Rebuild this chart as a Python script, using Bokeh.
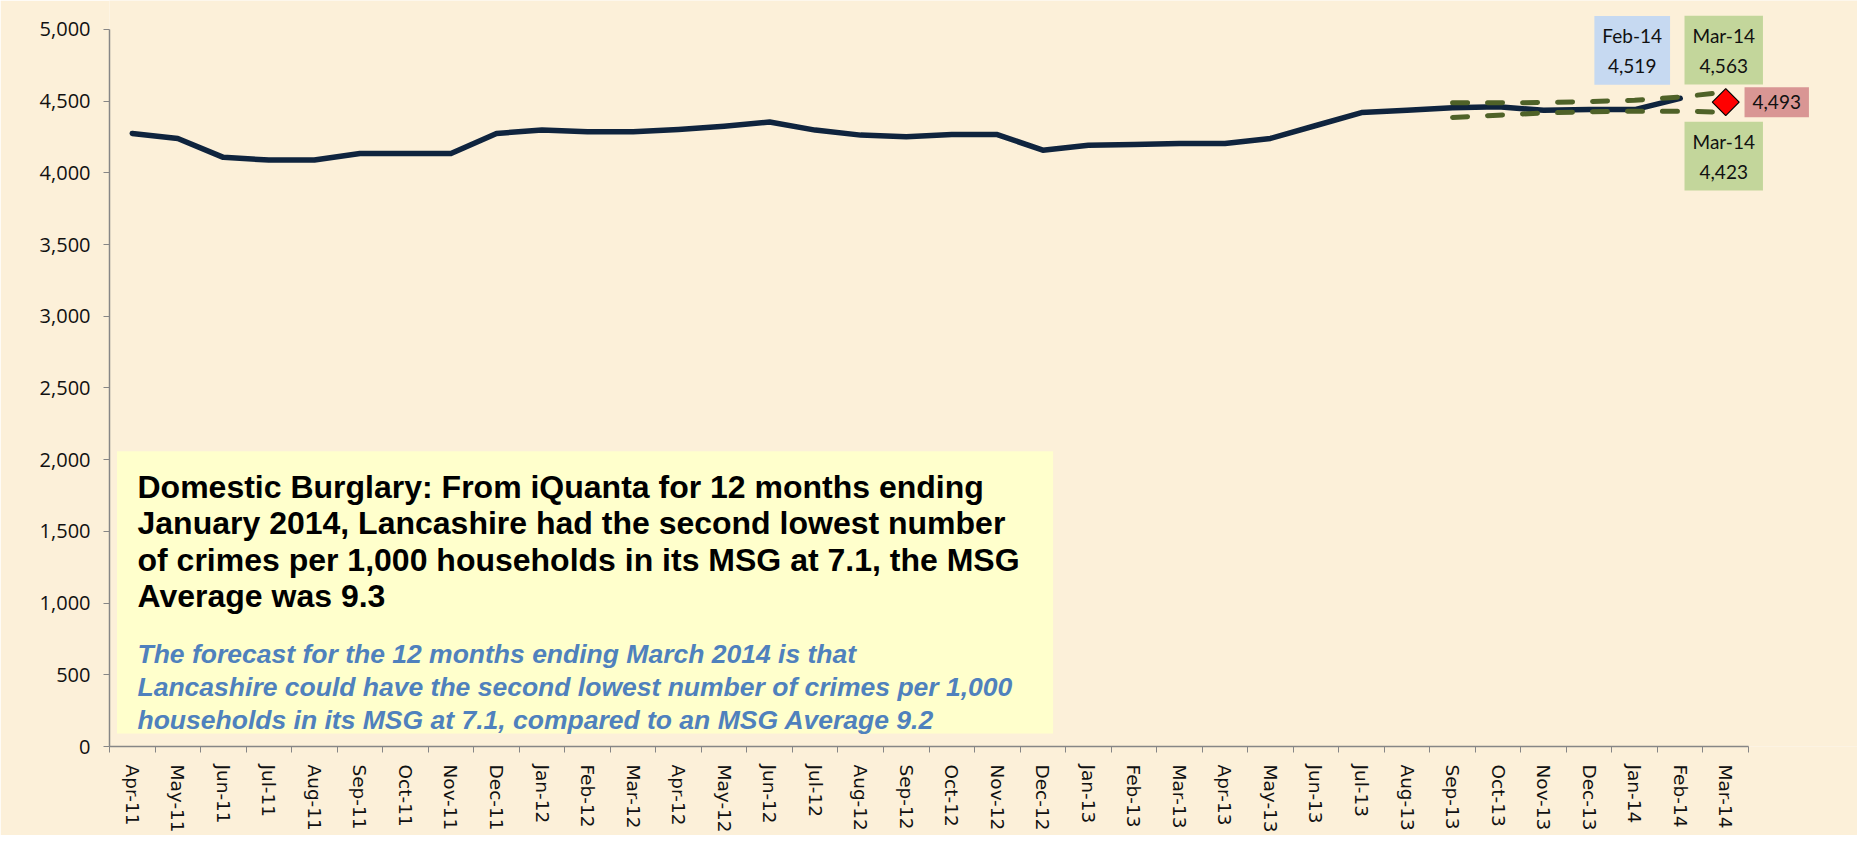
import math
from bokeh.plotting import figure
from bokeh.models import FixedTicker, NumeralTickFormatter, Label, BoxAnnotation
from bokeh.embed import file_html
from bokeh.resources import INLINE

# ---------------- data ----------------
months = ["Apr-11", "May-11", "Jun-11", "Jul-11", "Aug-11", "Sep-11", "Oct-11", "Nov-11",
          "Dec-11", "Jan-12", "Feb-12", "Mar-12", "Apr-12", "May-12", "Jun-12", "Jul-12",
          "Aug-12", "Sep-12", "Oct-12", "Nov-12", "Dec-12", "Jan-13", "Feb-13", "Mar-13",
          "Apr-13", "May-13", "Jun-13", "Jul-13", "Aug-13", "Sep-13", "Oct-13", "Nov-13",
          "Dec-13", "Jan-14", "Feb-14", "Mar-14"]

actual = [4275, 4240, 4108, 4089, 4089, 4135, 4135, 4135, 4275, 4298, 4286, 4286,
          4302, 4325, 4355, 4298, 4263, 4251, 4267, 4267, 4158, 4193, 4198, 4205,
          4205, 4240, 4330, 4420, 4437, 4453, 4460, 4437, 4441, 4441, 4519]

band_months = ["Sep-13", "Oct-13", "Nov-13", "Dec-13", "Jan-14", "Feb-14", "Mar-14"]
upper = [4488, 4488, 4490, 4497, 4506, 4529, 4563]
lower = [4386, 4402, 4418, 4425, 4430, 4430, 4423]

forecast_month = "Mar-14"
forecast_value = 4493

y_ticks = [0, 500, 1000, 1500, 2000, 2500, 3000, 3500, 4000, 4500, 5000]

title_lines = [
    "Domestic Burglary: From iQuanta for 12 months ending",
    "January 2014, Lancashire had the second lowest number",
    "of crimes per 1,000 households in its MSG at 7.1, the MSG",
    "Average was 9.3",
]
note_lines = [
    "The forecast for the 12 months ending March 2014 is that",
    "Lancashire could have the second lowest number of crimes per 1,000",
    "households in its MSG at 7.1, compared to an MSG Average 9.2",
]

# ---------------- layout (pixels) ----------------
BG = "#fcf0d9"
AX = "#868686"
W, H = 1857, 835
AX_LEFT, AX_RIGHT = 109, 1748      # x positions of axis start / end
AX_TOP, AX_BOTTOM = 29, 748        # y positions of 5,000 and 0
YMAX = 5000
NCAT = len(months)

px_per_cat = (AX_RIGHT - AX_LEFT) / NCAT
px_per_unit = (AX_BOTTOM - AX_TOP) / YMAX

x_end = (W - AX_LEFT) / px_per_cat
y_end = AX_BOTTOM / px_per_unit

def xval(px):
    return (px - AX_LEFT) / px_per_cat

def yval(py):
    return (AX_BOTTOM - py) / px_per_unit

p = figure(width=W, height=H, x_range=(0, x_end), y_range=(0, y_end),
           output_backend="svg", toolbar_location=None,
           min_border_left=AX_LEFT, min_border_right=0, min_border_top=0,
           min_border_bottom=H - AX_BOTTOM)
p.background_fill_color = BG
p.border_fill_color = BG
p.outline_line_color = None
p.xgrid.visible = False
p.ygrid.visible = False

centers = [i + 0.5 for i in range(NCAT)]
xpos = {m: c for m, c in zip(months, centers)}

# x axis
p.xaxis.bounds = (0, NCAT)
p.xaxis.ticker = FixedTicker(ticks=centers, minor_ticks=list(range(NCAT + 1)))
p.xaxis.major_label_overrides = {c: m for c, m in zip(centers, months)}
p.xaxis.major_label_orientation = "vertical"
p.xaxis.major_tick_out = 0
p.xaxis.major_tick_in = 0
p.xaxis.minor_tick_out = 6
p.xaxis.minor_tick_in = 0
p.xaxis.minor_tick_line_color = AX
p.xaxis.axis_line_color = AX
p.xaxis.axis_line_width = 1.5
p.xaxis.major_label_standoff = 12
p.xaxis.major_label_text_font = "DejaVu Sans"
p.xaxis.major_label_text_font_size = "18.5px"
p.xaxis.major_label_text_color = "#111111"

# y axis
p.yaxis.bounds = (0, YMAX)
p.yaxis.ticker = FixedTicker(ticks=y_ticks)
p.yaxis.formatter = NumeralTickFormatter(format="0,0")
p.yaxis.major_tick_out = 6
p.yaxis.major_tick_in = 0
p.yaxis.minor_tick_out = 0
p.yaxis.minor_tick_in = 0
p.yaxis.major_tick_line_color = AX
p.yaxis.axis_line_color = AX
p.yaxis.axis_line_width = 1.5
p.yaxis.major_label_standoff = 13
p.yaxis.major_label_text_font = "Open Sans"
p.yaxis.major_label_text_font_size = "20px"
p.yaxis.major_label_text_color = "#111111"

# ---------------- series ----------------
p.line(x=centers[:len(actual)], y=actual, line_color="#0f243e", line_width=5.5,
       line_join="round", line_cap="round")

bx = [xpos[m] for m in band_months]
for band in (upper, lower):
    p.line(x=bx, y=band, line_color="#4f6228", line_width=5, line_dash="15 20",
           line_cap="round", line_join="round")

p.scatter(x=[xpos[forecast_month]], y=[forecast_value], marker="square", angle=math.pi / 4,
          size=19, fill_color="#ff0000", line_color="#000000", line_width=1.2)

# ---------------- data labels ----------------
def box_label(x, y, text, color, dx, dy, pad=8):
    p.add_layout(Label(x=x, y=y, text=text, x_offset=dx, y_offset=dy,
                       text_align="center", text_baseline="middle",
                       text_font="Lato", text_font_size="19px", text_color="#111111",
                       text_line_height=1.3,
                       background_fill_color=color, background_fill_alpha=1.0,
                       border_line_color=None, padding=pad))

last = len(actual) - 1
box_label(xpos[months[last]], actual[last], f"{months[last]}\n{actual[last]:,}", "#c6d9f1", -48, 48)
box_label(bx[-1], upper[-1], f"{band_months[-1]}\n{upper[-1]:,}", "#c3d69b", -2, 42)
box_label(bx[-1], lower[-1], f"{band_months[-1]}\n{lower[-1]:,}", "#c3d69b", -2, -44)
box_label(xpos[forecast_month], forecast_value, f"{forecast_value:,}", "#d99694", 51, 0, pad=8)

# ---------------- text box ----------------
p.add_layout(BoxAnnotation(left=xval(116.5), right=xval(1052.6), top=yval(452), bottom=yval(735),
                           fill_color="#ffffcc", fill_alpha=1.0, line_color=None, level="underlay"))

for i, t in enumerate(title_lines):
    p.add_layout(Label(x=xval(137), y=yval(487.7 + i * 36.5), text=t,
                       text_align="left", text_baseline="middle",
                       text_font="Liberation Sans", text_font_style="bold",
                       text_font_size="32px", text_color="#000000"))

for i, t in enumerate(note_lines):
    p.add_layout(Label(x=xval(137), y=yval(655 + i * 33), text=t,
                       text_align="left", text_baseline="middle",
                       text_font="Liberation Sans", text_font_style="bold italic",
                       text_font_size="26.5px", text_color="#4f81bd"))

open("out.html", "w").write(file_html(p, INLINE))
